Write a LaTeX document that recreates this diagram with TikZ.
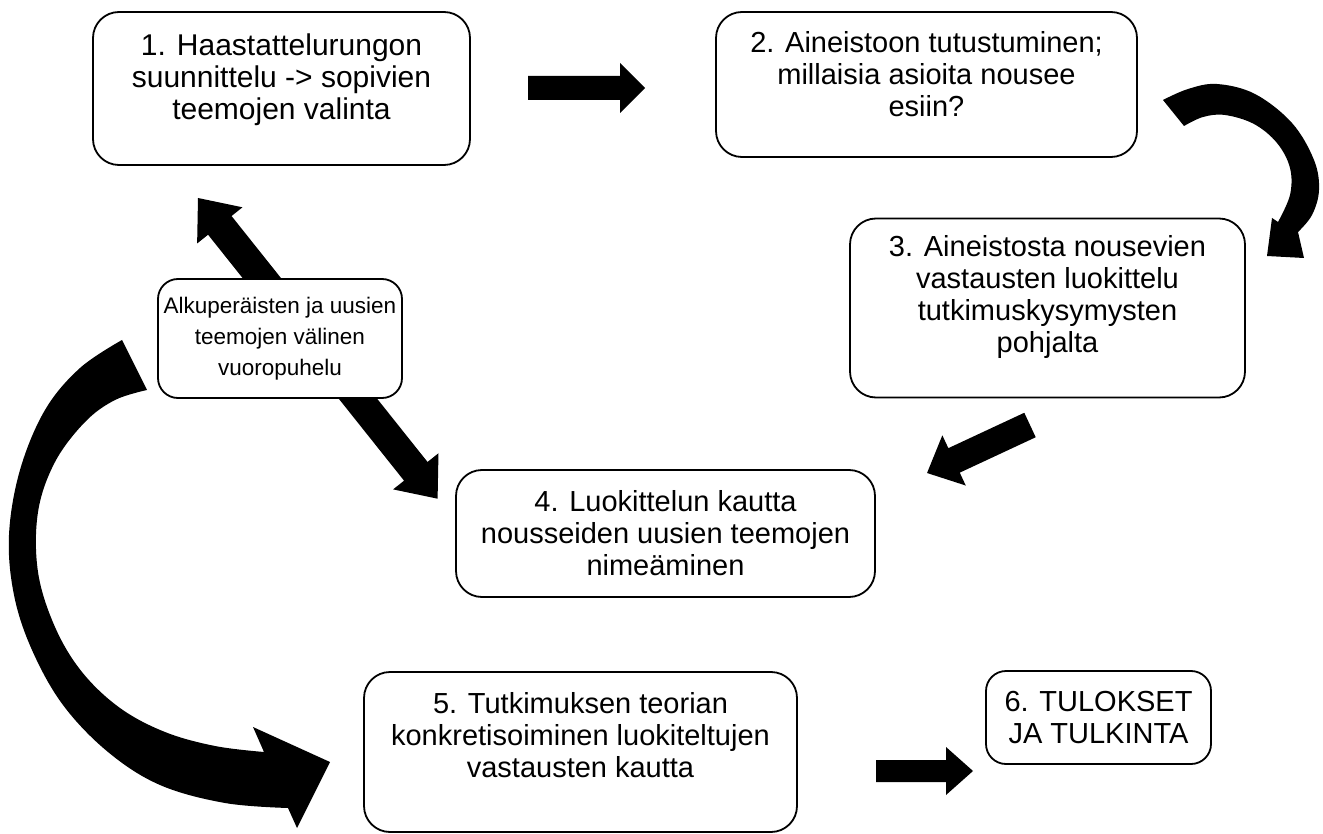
\documentclass[tikz,border=0pt]{standalone}
\usepackage{fontspec}
\setmainfont{Liberation Sans}
% straight block arrow: tail centre, angle, length, half body, half head, head length
\newcommand\fatarrow[6]{%
  \fill[shift={#1}, rotate=#2] (0,-#4) -- ({#3-#6},-#4) -- ({#3-#6},-#5) -- (#3,0)
    -- ({#3-#6},#5) -- ({#3-#6},#4) -- (0,#4) -- cycle;}
% block arrow with a head at both ends
\newcommand\fatarrowtwo[6]{%
  \fill[shift={#1}, rotate=#2] (0,0) -- (#6,#5) -- (#6,#4) -- ({#3-#6},#4) -- ({#3-#6},#5)
    -- (#3,0) -- ({#3-#6},-#5) -- ({#3-#6},-#4) -- (#6,-#4) -- (#6,-#5) -- cycle;}
\begin{document}
\begin{tikzpicture}[x=1pt,y=-1pt,
  stepbox/.style={draw=black, line width=1.8pt, rounded corners=26pt, fill=white,
    align=center, inner sep=0pt, font=\fontsize{29pt}{32pt}\selectfont},
  textsize/.style={font=\fontsize{#1pt}{32pt}\selectfont}]
\useasboundingbox (0,0) rectangle (1323,834);

% ---- block arrows (drawn first, boxes sit on top) ----
\fatarrow{(528,88)}{0}{117}{12}{25}{25}
\fatarrow{(876,771)}{0}{97}{11}{24}{27}
\fatarrow{(1030,425)}{205}{113.6}{13.5}{27.7}{29.8}
\fatarrowtwo{(198,198)}{-51.45}{384.5}{15}{29}{35}

% curved arrow from step 2 down to step 3
\fill plot[smooth, tension=0.6] coordinates {(1163,100) (1188,89) (1217,84) (1255,94)
      (1292,123) (1314,160) (1319,190) (1312,215) (1298,232)}
  -- (1304,258) -- (1267,256) -- (1272,218)
  -- plot[smooth, tension=0.6] coordinates {(1278,222) (1290,195) (1290,168) (1277,143)
      (1254,124) (1225,115) (1203,117) (1184,126)}
  -- cycle;

% large curved arrow on the left, towards step 5
\fill plot[smooth, tension=0.6] coordinates {(122,340) (80,368) (45,410) (20,470) (9,535)
      (14,595) (32,650) (63,705) (108,752) (160,785) (225,803) (288,808)}
  -- (297,828) -- (330,762) -- (253,727)
  -- plot[smooth, tension=0.6] coordinates {(264,752) (215,746) (165,732) (120,708)
      (82,672) (55,627) (38,572) (38,512) (55,462) (85,422) (115,400) (147,390)}
  -- cycle;

% ---- steps ----
\node[stepbox, textsize=30, minimum width=377pt, minimum height=153pt, text depth=24pt] (s1) at (281.5,88.5)
  {1. Haastattelurungon\\suunnittelu -> sopivien\\teemojen valinta};
\node[stepbox, minimum width=421pt, minimum height=145pt, text depth=22pt] (s2) at (926.5,84.5)
  {2. Aineistoon tutustuminen;\\millaisia asioita nousee\\esiin?};
\node[stepbox, minimum width=395pt, minimum height=179pt, text depth=28pt] (s3) at (1047.5,308)
  {3. Aineistosta nousevien\\vastausten luokittelu\\tutkimuskysymysten\\pohjalta};
\node[stepbox, font=\fontsize{22.5pt}{31pt}\selectfont, minimum width=244pt, minimum height=119pt,
      rounded corners=20pt] (dia) at (280,338.5)
  {Alkuperäisten ja uusien\\teemojen välinen\\vuoropuhelu};
\node[stepbox, minimum width=419pt, minimum height=127pt] (s4) at (665.5,533.5)
  {4. Luokittelun kautta\\nousseiden uusien teemojen\\nimeäminen};
\node[stepbox, minimum width=433pt, minimum height=160pt, text depth=35pt] (s5) at (580.5,752)
  {5. Tutkimuksen teorian\\konkretisoiminen luokiteltujen\\vastausten kautta};
\node[stepbox, minimum width=225pt, minimum height=93pt, rounded corners=20pt] (s6) at (1098.5,717.5)
  {6. TULOKSET\\JA TULKINTA};
\end{tikzpicture}
\end{document}
